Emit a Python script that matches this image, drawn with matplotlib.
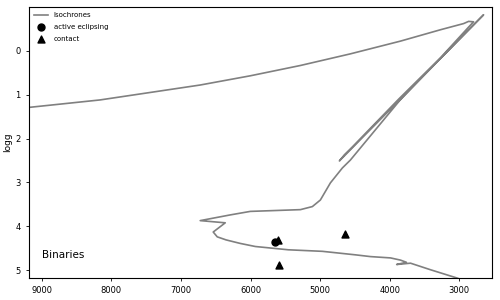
import numpy as np
import matplotlib
matplotlib.use('Agg')
from matplotlib import pyplot as plt

# isochrone track (Teff, logg)
isoTeff = [2900, 3029, 3413, 3701, 3900, 3760, 3845, 3988, 4276, 4492, 4967, 5456,
           5931, 6147, 6350, 6478, 6536, 6363, 6723, 6291, 6003, 5283, 5111, 4996,
           4852, 4680, 4565, 3855, 3275, 2651,
           4723, 4651, 4536, 3870, 3265, 2866, 2795, 2866, 2938,
           3269, 3846, 4565, 5283, 6003, 6723, 8162, 9183, 9400]
isoLogg = [5.26, 5.18, 4.99, 4.84, 4.87, 4.82, 4.77, 4.72, 4.69, 4.65, 4.57, 4.535,
           4.46, 4.39, 4.31, 4.24, 4.13, 3.92, 3.87, 3.74, 3.66, 3.62, 3.55, 3.40,
           3.01, 2.67, 2.49, 1.13, 0.18, -0.82,
           2.51, 2.37, 2.19, 1.10, 0.15, -0.54, -0.66, -0.67, -0.62,
           -0.48, -0.22, 0.07, 0.335, 0.57, 0.78, 1.12, 1.29, 1.34]

eclTeff = [5654]
eclLogg = [4.35]

contactTeff = [5605, 5596, 4646]
contactLogg = [4.32, 4.88, 4.18]

fig = plt.figure(figsize=(5, 3), dpi=100)
ax = fig.add_axes([0.058, 0.073, 0.926, 0.904])

ax.plot(isoTeff, isoLogg, color='gray', lw=1.2, label='Isochrones')
ax.scatter(eclTeff, eclLogg, color='black', marker='o', s=25, label='active eclipsing', zorder=3)
ax.scatter(contactTeff, contactLogg, color='black', marker='^', s=25, label='contact', zorder=3)

ax.set_xlim(9183, 2530)
ax.set_ylim(5.18, -1.0)
ax.set_xticks([9000, 8000, 7000, 6000, 5000, 4000, 3000])
ax.set_yticks([0, 1, 2, 3, 4, 5])
ax.tick_params(labelsize=6, length=2.5, width=0.6)
ax.set_ylabel('logg', fontsize=6.5, labelpad=2)
for s in ax.spines.values():
    s.set_linewidth(0.8)

ax.text(0.028, 0.085, 'Binaries', transform=ax.transAxes, fontsize=7.5, va='center')
ax.legend(loc='upper left', fontsize=5, frameon=False, handlelength=2.0,
          labelspacing=0.85, borderaxespad=0.35)

fig.savefig('out.png', dpi=100)
